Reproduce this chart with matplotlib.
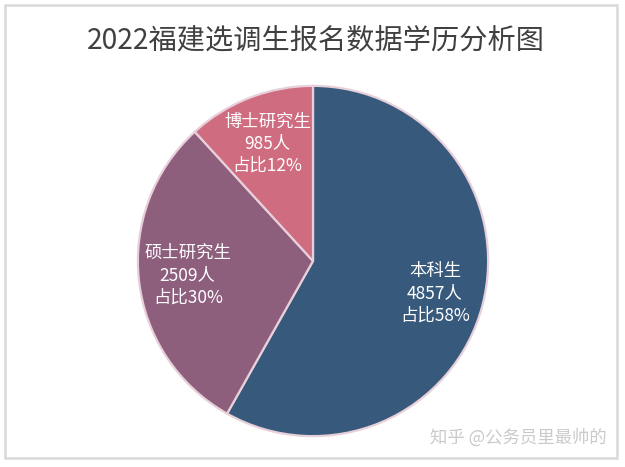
import matplotlib.pyplot as plt
from matplotlib.patches import Rectangle

plt.rcParams['font.family'] = ['Noto Sans CJK SC', 'DejaVu Sans']

# 学历分布数据
categories = ['本科生', '硕士研究生', '博士研究生']
counts = [4857, 2509, 985]
shares = [58, 30, 12]
colors = ['#375a7c', '#8e5e7d', '#d06c80']

fig = plt.figure(figsize=(6.25, 4.67), dpi=100)
fig.patch.set_facecolor('white')

# 外边框
fig.patches.append(Rectangle((5 / 625, 9 / 467), 612 / 625, 453 / 467,
                             transform=fig.transFigure, fill=False,
                             edgecolor='#d9d9d9', linewidth=1.8))

fig.text(316 / 625, 1 - 40 / 467, '2022福建选调生报名数据学历分析图',
         ha='center', va='center', fontsize=20.3, color='#404040')

ax = fig.add_axes([137 / 625, (467 - 261 - 176) / 467, 352 / 625, 352 / 467])
labels = ['%s\n%d人\n占比%d%%' % (c, n, s) for c, n, s in zip(categories, counts, shares)]
wedges, texts = ax.pie(counts, labels=labels, colors=colors, startangle=90,
                       counterclock=False, labeldistance=0.72,
                       wedgeprops=dict(edgecolor='#e8d0da', linewidth=1.6))
for t in texts:
    t.set_ha('center')
    t.set_va('center')
    t.set_color('white')
    t.set_fontsize(12.5)
    t.set_linespacing(1.3)
ax.set_xlim(-1.005, 1.005)
ax.set_ylim(-1.005, 1.005)

fig.text(607 / 625, 1 - 438 / 467, '知乎 @公务员里最帅的', ha='right', va='center',
         fontsize=12.5, color='#cacaca')

plt.savefig('out.png', dpi=100)
